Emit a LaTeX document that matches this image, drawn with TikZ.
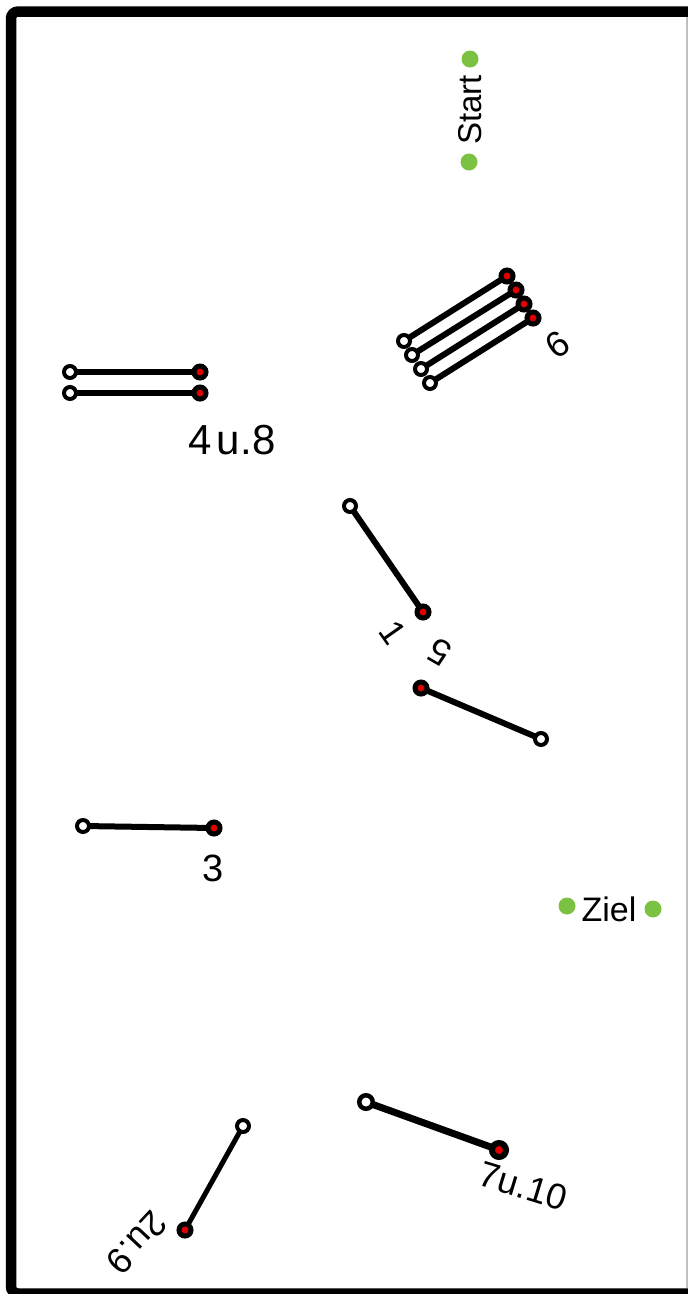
\documentclass[tikz,border=0pt]{standalone}
\usepackage{fontspec}
\setmainfont{Liberation Sans}
\usetikzlibrary{backgrounds}
\definecolor{pgreen}{RGB}{124,194,66}
\definecolor{pred}{RGB}{225,0,0}
\begin{document}
\begin{tikzpicture}[x=1pt,y=-1pt,
  wend/.style={circle, draw=black, fill=white, line width=4pt, minimum size=12pt, inner sep=0pt},
  rend/.style={circle, draw=black, fill=pred, line width=5pt, minimum size=12pt, inner sep=0pt},
  wendb/.style={wend, minimum size=13.5pt, line width=4.5pt},
  rendb/.style={rend, minimum size=14pt, line width=6pt},
  stick/.style={line width=6pt},
  gdot/.style={circle, fill=pgreen, minimum size=17pt, inner sep=0pt},
  lbl/.style={inner sep=0pt, font=\fontsize{#1}{#1}\selectfont},
  lbl/.default=38]
\useasboundingbox (0,0) rectangle (688,1294);
\clip (0,0) rectangle (688,1294);
% frame
\draw[line width=10.5pt, rounded corners=7pt] (720,11.5) -- (11,11.5) -- (11,1293.5) -- (720,1293.5);
\draw[black!25, line width=1.5pt] (687.2,17) -- (687.2,1288);

% Start
\node[gdot] (s1) at (470,59) {};
\node[gdot] (s2) at (469,162) {};
\node[lbl=33, rotate=90] (start) at (470,110) {Start};

% Ziel
\node[gdot] (z1) at (567,906) {};
\node[gdot] (z2) at (653,909) {};
\node[lbl=34] (ziel) at (609,909) {Ziel};

% bundle 6
\node[wend] (w6a) at (404,341) {};
\node[wend] (w6b) at (412,355) {};
\node[wend] (w6c) at (421,369) {};
\node[wend] (w6d) at (430,383) {};
\node[rend] (r6a) at (507,276) {};
\node[rend] (r6b) at (516,290) {};
\node[rend] (r6c) at (524,304) {};
\node[rend] (r6d) at (533,318) {};
\node[lbl=36, rotate=35] (l6) at (558,345) {6};

% 4 u. 8
\node[wend] (w4) at (70,372) {};
\node[wend] (w8) at (70,393) {};
\node[rend] (r4) at (200,372) {};
\node[rend] (r8) at (200,393) {};
\node[lbl=42] (l48) at (232,440) {4\hspace{5pt}u.8};

% 1
\node[wend] (w1) at (350,506) {};
\node[rend] (r1) at (423,612) {};
\node[lbl=35, rotate=-55] (l1) at (393,633) {1};

% 5
\node[rend] (r5) at (421,688) {};
\node[wend] (w5) at (541,739) {};
\node[lbl=36, rotate=150] (l5) at (440,652) {5};

% 3
\node[wend] (w3) at (83,826) {};
\node[rend] (r3) at (214,828) {};
\node[lbl=38] (l3) at (213,868) {3};

% 2 u. 9
\node[wend] (w2) at (243,1126) {};
\node[rend] (r2) at (185,1230) {};
\node[lbl=36, rotate=-133] (l29) at (137,1243) {2u.9};

% 7 u. 10
\node[wendb] (w7) at (366,1102) {};
\node[rendb] (r7) at (499,1150) {};
\node[lbl=36, rotate=-17] (l710) at (523,1186) {7u.10};

\begin{pgfonlayer}{background}
\draw[stick] (w6a.center) -- (r6a.center);
\draw[stick] (w6b.center) -- (r6b.center);
\draw[stick] (w6c.center) -- (r6c.center);
\draw[stick] (w6d.center) -- (r6d.center);
\draw[stick] (w4.center) -- (r4.center);
\draw[stick] (w8.center) -- (r8.center);
\draw[stick] (w1.center) -- (r1.center);
\draw[stick] (r5.center) -- (w5.center);
\draw[stick] (w3.center) -- (r3.center);
\draw[stick, line width=5pt] (w2.center) -- (r2.center);
\draw[stick, line width=7pt] (w7.center) -- (r7.center);
\end{pgfonlayer}
\end{tikzpicture}
\end{document}
